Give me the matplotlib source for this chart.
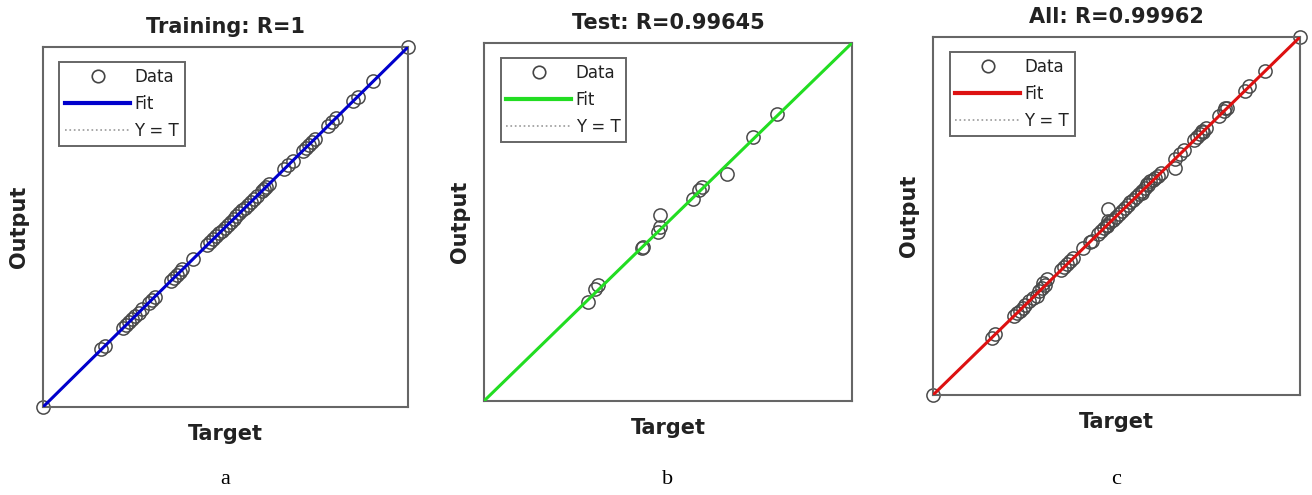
import matplotlib
matplotlib.use("Agg")
import matplotlib.pyplot as plt
from matplotlib.lines import Line2D

# ---------------- data (normalised target / output) ----------------
train_target = [0.000, 0.160, 0.170, 0.220, 0.228, 0.236, 0.244, 0.252, 0.262, 0.272,
                0.290, 0.298, 0.306, 0.350, 0.358, 0.366, 0.374, 0.382, 0.410,
                0.450, 0.458, 0.466, 0.474, 0.482, 0.490, 0.498, 0.506, 0.514, 0.522,
                0.530, 0.538, 0.546, 0.554, 0.562, 0.570, 0.578, 0.586, 0.600, 0.606,
                0.612, 0.620, 0.660, 0.672, 0.684, 0.712, 0.720, 0.728, 0.736, 0.745,
                0.780, 0.792, 0.802, 0.850, 0.862, 0.905, 1.000]
train_output = [0.000, 0.160, 0.170, 0.220, 0.228, 0.236, 0.244, 0.252, 0.262, 0.272,
                0.290, 0.298, 0.306, 0.350, 0.358, 0.366, 0.374, 0.382, 0.410,
                0.450, 0.458, 0.466, 0.474, 0.482, 0.490, 0.498, 0.506, 0.514, 0.522,
                0.530, 0.538, 0.546, 0.554, 0.562, 0.570, 0.578, 0.586, 0.600, 0.606,
                0.612, 0.620, 0.660, 0.672, 0.684, 0.712, 0.720, 0.728, 0.736, 0.745,
                0.780, 0.792, 0.802, 0.850, 0.862, 0.905, 1.000]

test_target = [0.283, 0.301, 0.310, 0.428, 0.433, 0.474, 0.478, 0.478, 0.569, 0.583,
               0.592, 0.660, 0.732, 0.796]
test_output = [0.277, 0.314, 0.323, 0.426, 0.430, 0.472, 0.486, 0.519, 0.565, 0.588,
               0.598, 0.635, 0.737, 0.803]

titles = ["Training: R=1", "Test: R=0.99645", "All: R=0.99962"]
fit_colors = ["#0000cc", "#22dd22", "#dd1111"]
panel_letters = ["a", "b", "c"]

# axes boxes in pixels: left, top, right, bottom
boxes = [(43, 47, 408, 407), (484, 43, 852, 401), (933, 37, 1300, 395)]

W, H = 1312, 495
fig = plt.figure(figsize=(W / 100, H / 100), dpi=100)

all_target = train_target + test_target
all_output = train_output + test_output
datasets = [(train_target, train_output), (test_target, test_output), (all_target, all_output)]

LBL = dict(fontsize=15, fontweight="bold", family="DejaVu Sans", color="#222222")

for i, ((l, t, r, b), (xt, yo)) in enumerate(zip(boxes, datasets)):
    ax = fig.add_axes([l / W, (H - b) / H, (r - l) / W, (b - t) / H])
    ax.set_xlim(0, 1)
    ax.set_ylim(0, 1)
    ax.set_xticks([])
    ax.set_yticks([])
    for s in ax.spines.values():
        s.set_color("#666666")
        s.set_linewidth(1.5)
    ax.plot([0, 1], [0, 1], linestyle=":", color="#999999", lw=1.2, zorder=1)
    ax.plot(xt, yo, linestyle="none", marker="o", markersize=9.5, markerfacecolor="none",
            markeredgecolor="#4a4a4a", markeredgewidth=1.1, zorder=2, clip_on=False)
    ax.plot([0, 1], [0, 1], color=fit_colors[i], lw=2.2, zorder=3)

    ax.set_title(titles[i], pad=10, **LBL)
    ax.set_xlabel("Target", labelpad=12, **LBL)
    ax.set_ylabel("Output", labelpad=10, **LBL)

    handles = [
        Line2D([], [], linestyle="none", marker="o", markersize=9, markerfacecolor="none",
               markeredgecolor="#444444", markeredgewidth=1.2),
        Line2D([], [], color=fit_colors[i], lw=3.0),
        Line2D([], [], color="#999999", lw=1.2, linestyle=":"),
    ]
    leg = ax.legend(handles, ["Data", "Fit", "Y = T"], loc="upper left",
                    bbox_to_anchor=(0.045, 0.958), fancybox=False, framealpha=1,
                    edgecolor="#666666", handlelength=3.9, handletextpad=0.25,
                    borderpad=0.35, labelspacing=0.55, borderaxespad=0,
                    prop={"family": "DejaVu Sans", "size": 12})
    for txt in leg.get_texts():
        txt.set_color("#222222")
    leg.get_frame().set_linewidth(1.4)

    cx = (l + r) / 2
    fig.text(cx / W, 1 - 479 / H, panel_letters[i], ha="center", va="center",
             fontsize=16, family="Liberation Serif")

fig.savefig("out.png", dpi=100)
